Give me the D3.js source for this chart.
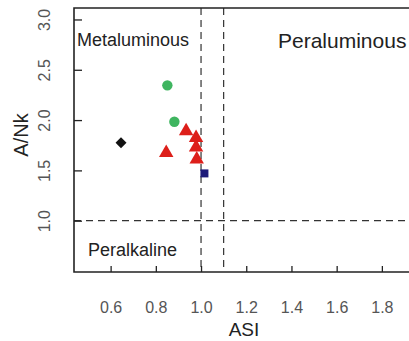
<!DOCTYPE html>
<html>
<head>
<meta charset="utf-8">
<script src="https://cdn.jsdelivr.net/npm/d3@7"></script>
<style>
  body { margin: 0; background: #fff; }
  text { font-family: "Liberation Sans", Arial, sans-serif; }
</style>
</head>
<body>
<script>
// samples (ASI, A/NK)
var circles = [[0.851, 2.345], [0.882, 1.983]];
var triangles = [[0.934, 1.89], [0.978, 1.824], [0.978, 1.73], [0.846, 1.675], [0.981, 1.61]];
var diamonds = [[0.646, 1.774]];
var squares = [[1.015, 1.47]];

var xTicks = [0.6, 0.8, 1.0, 1.2, 1.4, 1.6, 1.8];
var yTicks = [1.0, 1.5, 2.0, 2.5, 3.0];
var xLines = [1.0, 1.1];
var yLines = [1.0];

var width = 409, height = 341;
var margin = { top: 8, left: 74, bottom: 69 };

var svg = d3.select("body").append("svg")
    .attr("width", width)
    .attr("height", height);

var x = d3.scaleLinear().domain([0.438, 1.92]).range([margin.left, width]);
var y = d3.scaleLinear().domain([0.49, 3.114]).range([height - margin.bottom, margin.top]);

var x0 = margin.left, x1 = width, y0 = height - margin.bottom, y1 = margin.top;

// dashed divider lines
svg.selectAll(".vline").data(xLines).enter().append("line")
    .attr("x1", d => x(d)).attr("x2", d => x(d))
    .attr("y1", y1).attr("y2", y0)
    .attr("stroke", "#333").attr("stroke-width", 1.2)
    .attr("stroke-dasharray", "7,5");

svg.selectAll(".hline").data(yLines).enter().append("line")
    .attr("x1", x0).attr("x2", x1)
    .attr("y1", d => y(d)).attr("y2", d => y(d))
    .attr("stroke", "#333").attr("stroke-width", 1.2)
    .attr("stroke-dasharray", "7,5");

// axes, ticks point inward
var xAxis = svg.append("g")
    .attr("transform", "translate(0," + y0 + ")")
    .call(d3.axisBottom(x).tickValues(xTicks).tickSize(-6).tickSizeOuter(0).tickPadding(30)
        .tickFormat(d3.format(".1f")));

var yAxis = svg.append("g")
    .attr("transform", "translate(" + x0 + ",0)")
    .call(d3.axisLeft(y).tickValues(yTicks).tickSize(-8).tickSizeOuter(0)
        .tickFormat(d3.format(".1f")));

[xAxis, yAxis].forEach(function(a) {
    a.select(".domain").remove();
    a.selectAll("line").attr("stroke", "#222").attr("stroke-width", 1.3);
    a.selectAll("text").attr("fill", "#555").style("font-size", "16px");
});

yAxis.selectAll("text")
    .attr("x", null).attr("dy", null)
    .attr("text-anchor", "middle")
    .attr("transform", "translate(-24,0) rotate(-90)");

// frame (left, top, bottom)
svg.append("path")
    .attr("d", "M" + x1 + "," + y1 + "H" + x0 + "V" + y0 + "H" + x1)
    .attr("fill", "none").attr("stroke", "#222").attr("stroke-width", 1.6);

// axis titles
svg.append("text")
    .attr("x", 244).attr("y", 336)
    .attr("text-anchor", "middle")
    .attr("fill", "#222")
    .style("font-size", "19px")
    .text("ASI");

svg.append("text")
    .attr("transform", "translate(28,135) rotate(-90)")
    .attr("text-anchor", "middle")
    .attr("fill", "#222")
    .style("font-size", "20px")
    .text("A/Nk");

// region names
svg.append("text").attr("x", 77).attr("y", 46)
    .attr("fill", "#222").style("font-size", "18px").text("Metaluminous");
svg.append("text").attr("x", 278).attr("y", 48)
    .attr("fill", "#222").style("font-size", "21px").text("Peraluminous");
svg.append("text").attr("x", 88).attr("y", 256)
    .attr("fill", "#222").style("font-size", "18px").text("Peralkaline");

// symbols
svg.selectAll(".circ").data(circles).enter().append("circle")
    .attr("cx", d => x(d[0])).attr("cy", d => y(d[1]))
    .attr("r", 5.2).attr("fill", "#3fb560");

svg.selectAll(".tri").data(triangles).enter().append("path")
    .attr("d", d3.symbol().type(d3.symbolTriangle).size(90))
    .attr("transform", d => "translate(" + x(d[0]) + "," + y(d[1]) + ")")
    .attr("fill", "#dd1f1a");

svg.selectAll(".dia").data(diamonds).enter().append("path")
    .attr("d", d3.symbol().type(d3.symbolSquare).size(60))
    .attr("transform", d => "translate(" + x(d[0]) + "," + y(d[1]) + ") rotate(45)")
    .attr("fill", "#111");

svg.selectAll(".sq").data(squares).enter().append("path")
    .attr("d", d3.symbol().type(d3.symbolSquare).size(64))
    .attr("transform", d => "translate(" + x(d[0]) + "," + y(d[1]) + ")")
    .attr("fill", "#1d1a78");
</script>
</body>
</html>
